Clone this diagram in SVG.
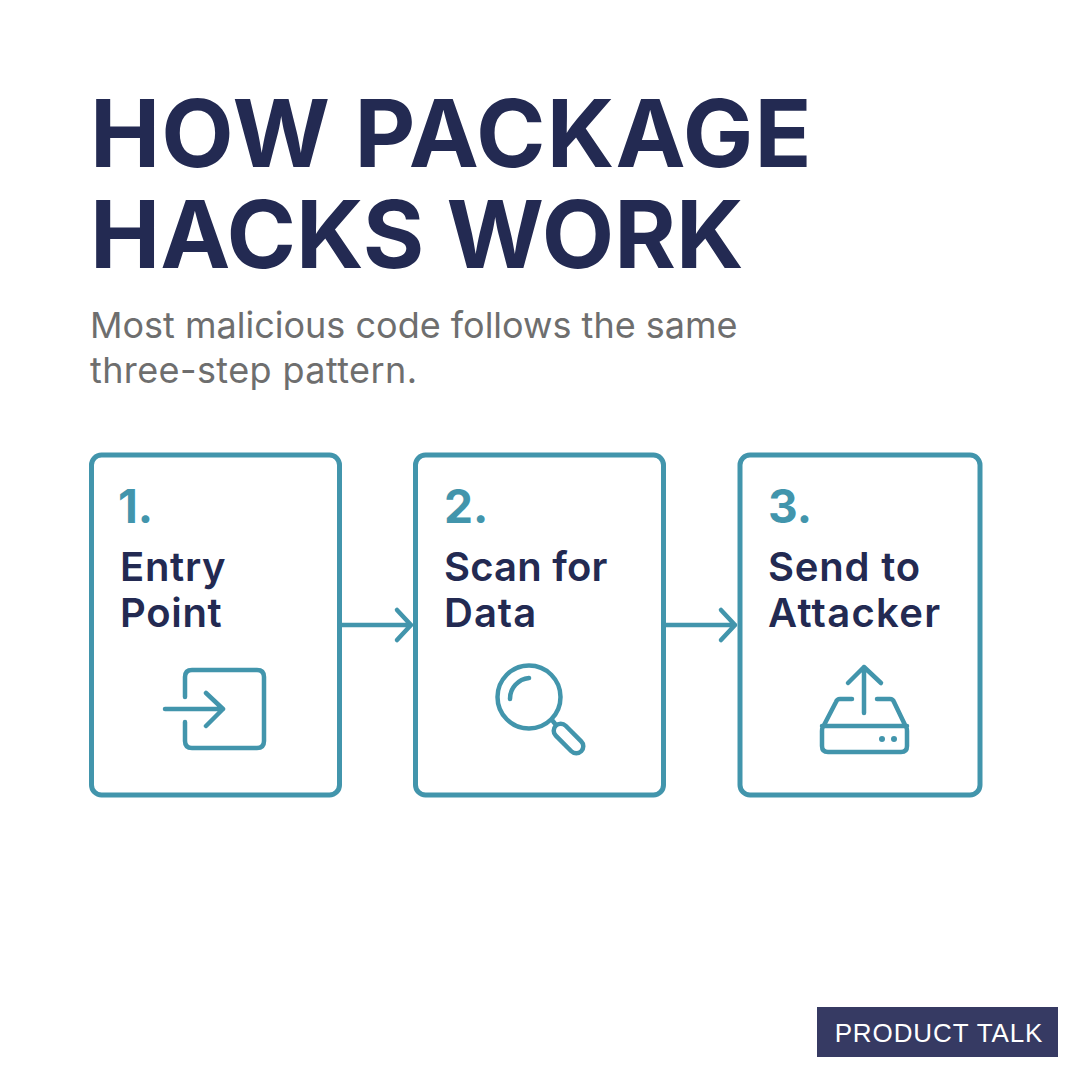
<svg xmlns="http://www.w3.org/2000/svg" width="1080" height="1080" viewBox="0 0 1080 1080">
<style>
.t{font-family:Inter,"Liberation Sans",sans-serif}
.h{font-size:94px;font-weight:700;fill:#232a52}
.s{font-size:36px;fill:#6e6e6e}
.n{font-size:46px;font-weight:700;fill:#4295ac}
.l{font-size:40px;font-weight:600;fill:#232a52}
.b{fill:#fff;stroke:#4295ac;stroke-width:5}
.i{fill:none;stroke:#4295ac;stroke-width:4.500;stroke-linecap:round;stroke-linejoin:round}
.c{fill:none;stroke:#4295ac;stroke-width:4.500;stroke-linecap:round;stroke-linejoin:round}
</style>
<rect width="1080" height="1080" fill="#fff"/>
<g id="title"><text class="t h" x="90" y="167" letter-spacing="1.100">HOW PACKAGE</text><text class="t h" x="90" y="268" letter-spacing="0">HACKS WORK</text></g>
<g id="subtitle"><text class="t s" x="90" y="338">Most malicious code follows the same</text><text class="t s" x="90" y="383" letter-spacing=".4">three-step pattern.</text></g>
<g id="connectors"><path class="c" d="M342 625H411M397 610L411 625L397 640"/><path class="c" d="M666 625H735M721 610L735 625L721 640"/></g>
<g id="step1"><rect class="b" x="91.500" y="455" width="248" height="340" rx="10"/><text class="t n" x="118" y="523">1.</text><text class="t l" x="120" y="581" letter-spacing=".7">Entry</text><text class="t l" x="120" y="627" letter-spacing=".7">Point</text><path class="i" d="M185 697V677Q185 670 192 670H257Q264 670 264 677V741Q264 748 257 748H192Q185 748 185 741V722M165 709H223M206 693L223 709L206 726"/></g>
<g id="step2"><rect class="b" x="415.500" y="455" width="248" height="340" rx="10"/><text class="t n" x="444" y="523">2.</text><text class="t l" x="444" y="581" letter-spacing=".2">Scan for</text><text class="t l" x="444" y="627" letter-spacing="1">Data</text><circle class="i" cx="529" cy="697" r="31.500"/><path class="i" d="M510 699A21 21 0 0 1 529 678M552 720L556 725"/><rect class="i" x="-7" y="-18" width="14" height="36" rx="7" transform="translate(568.500 738.500) rotate(-45)"/></g>
<g id="step3"><rect class="b" x="740" y="455" width="240" height="340" rx="10"/><text class="t n" x="768" y="523">3.</text><text class="t l" x="768" y="581" letter-spacing=".8">Send to</text><text class="t l" x="768" y="627" letter-spacing="1.300">Attacker</text><path class="i" d="M852 699H840Q837 699 836 702L823 727Q822 728 822 731V746Q822 752 828 752H901Q907 752 907 746V731Q907 728 906 727L894 702Q893 699 890 699H877M822 726H907M864 713V667M848 683L864 667L881 683"/><circle cx="882" cy="739" r="3" fill="#4295ac"/><circle cx="894" cy="739" r="3" fill="#4295ac"/></g>
<g id="badge"><rect x="817" y="1007" width="241" height="50" fill="#363a63"/><text x="939" y="1042" text-anchor="middle" font-family="'Liberation Sans',Arial,sans-serif" font-size="26" letter-spacing=".9" fill="#fff">PRODUCT TALK</text></g>
</svg>
